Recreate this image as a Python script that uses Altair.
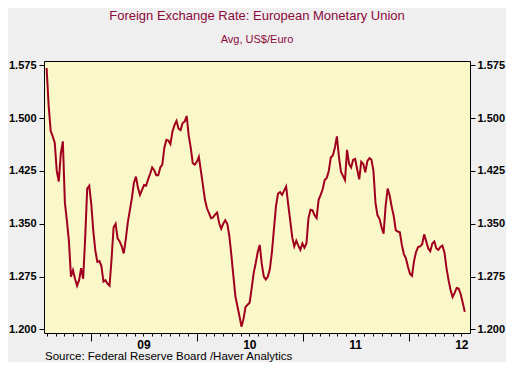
import altair as alt
import pandas as pd

title_text = "Foreign Exchange Rate: European Monetary Union"
subtitle_text = "Avg, US$/Euro"
source_text = "Source:  Federal Reserve Board /Haver Analytics"

# weekly averages, first observation week ending 2008-08-01
start_date = "2008-08-01"
rates = [
    1.571, 1.518, 1.482, 1.474, 1.465, 1.425, 1.410, 1.450, 1.467, 1.380,
    1.354, 1.325, 1.275, 1.284, 1.272, 1.262, 1.270, 1.287, 1.272, 1.330,
    1.400, 1.404, 1.378, 1.340, 1.312, 1.296, 1.297, 1.290, 1.268, 1.270,
    1.265, 1.262, 1.300, 1.345, 1.350, 1.329, 1.325, 1.318, 1.308, 1.328,
    1.352, 1.369, 1.386, 1.408, 1.417, 1.401, 1.391, 1.398, 1.405, 1.404,
    1.413, 1.421, 1.430, 1.426, 1.419, 1.419, 1.430, 1.434, 1.458, 1.469,
    1.468, 1.463, 1.481, 1.490, 1.496, 1.485, 1.483, 1.493, 1.495, 1.503,
    1.475, 1.458, 1.436, 1.434, 1.438, 1.445, 1.425, 1.405, 1.384, 1.372,
    1.365, 1.358, 1.359, 1.363, 1.366, 1.351, 1.343, 1.350, 1.355, 1.350,
    1.333, 1.306, 1.276, 1.247, 1.233, 1.219, 1.204, 1.215, 1.232, 1.235,
    1.238, 1.258, 1.280, 1.294, 1.310, 1.320, 1.293, 1.275, 1.271, 1.275,
    1.286, 1.310, 1.343, 1.375, 1.393, 1.395, 1.391, 1.397, 1.403, 1.378,
    1.355, 1.331, 1.318, 1.326, 1.319, 1.313, 1.322, 1.316, 1.322, 1.358,
    1.370, 1.369, 1.362, 1.358, 1.384, 1.391, 1.399, 1.412, 1.415, 1.425,
    1.444, 1.447, 1.458, 1.474, 1.445, 1.424, 1.418, 1.412, 1.455, 1.435,
    1.430, 1.441, 1.442, 1.427, 1.413, 1.438, 1.435, 1.423, 1.439, 1.443,
    1.441, 1.425, 1.380, 1.362, 1.357, 1.345, 1.336, 1.375, 1.400, 1.390,
    1.374, 1.361, 1.341, 1.339, 1.338, 1.320, 1.307, 1.301, 1.289, 1.279,
    1.276, 1.297, 1.310, 1.317, 1.318, 1.321, 1.335, 1.325, 1.315, 1.311,
    1.322, 1.325, 1.315, 1.313, 1.317, 1.319, 1.309, 1.287, 1.270, 1.256,
    1.246, 1.252, 1.259, 1.258, 1.250, 1.238, 1.225,
]

y_ticks = [1.200, 1.275, 1.350, 1.425, 1.500, 1.575]
y_domain = [1.195, 1.581]
x_domain = ["2008-07-23", "2012-07-31"]
year_label_dates = ["2009-07-01", "2010-07-01", "2011-07-01", "2012-07-01"]
year_tick_dates = ["2009-01-01", "2010-01-01", "2011-01-01", "2012-01-01"]
month_tick_dates = pd.date_range("2008-08-01", "2012-07-01", freq="MS").strftime("%Y-%m-%d").tolist()


def ms(d):
    return int(pd.Timestamp(d).timestamp() * 1000)


dates = pd.date_range(start_date, periods=len(rates), freq="7D").strftime("%Y-%m-%d")
df = pd.DataFrame({"date": dates, "rate": rates})

W, H = 426, 272
LINE = "#A0001E"
TITLE_C = "#8B0A3B"
FONT = "Liberation Sans"

xscale = alt.Scale(domain=[ms(d) for d in x_domain], nice=False)
yscale = alt.Scale(domain=y_domain, nice=False, zero=False)

x_common = dict(grid=False, domain=False, tickColor="black", labelColor="black",
                labelFont=FONT, labelFontSize=12, labelFontWeight="bold", title=None)
y_common = dict(grid=False, domain=False, tickColor="black", labelColor="black",
                labelFont=FONT, labelFontSize=11, labelFontWeight="bold", title=None)

minor_axis = alt.Axis(values=[ms(d) for d in month_tick_dates], labels=False, tickSize=3,
                      orient="bottom", **x_common)
major_axis = alt.Axis(values=[ms(d) for d in year_tick_dates], labels=False, tickSize=8,
                      orient="bottom", **x_common)
label_axis = alt.Axis(values=[ms(d) for d in year_label_dates], ticks=False, labelPadding=6,
                      labelExpr="utcFormat(datum.value, '%y')", orient="bottom", **x_common)

left_axis = alt.Axis(values=y_ticks, format=".3f", tickSize=5, labelPadding=3, orient="left", **y_common)
right_axis = alt.Axis(values=y_ticks, format=".3f", tickSize=5, labelPadding=2, orient="right", **y_common)

base = alt.Chart(df)

line = base.mark_line(color=LINE, strokeWidth=2).encode(
    x=alt.X("date:T", scale=xscale, axis=minor_axis),
    y=alt.Y("rate:Q", scale=yscale, axis=left_axis),
)
ghost1 = base.mark_line(opacity=0).encode(
    x=alt.X("date:T", scale=xscale, axis=major_axis),
    y=alt.Y("rate:Q", scale=yscale, axis=right_axis),
)
ghost2 = base.mark_line(opacity=0).encode(
    x=alt.X("date:T", scale=xscale, axis=label_axis),
    y=alt.Y("rate:Q", scale=yscale, axis=None),
)
src = alt.Chart(pd.DataFrame({"t": [source_text]})).mark_text(
    align="left", baseline="alphabetic", font=FONT, fontSize=11.5, color="black"
).encode(x=alt.value(1), y=alt.value(H + 27), text="t:N")

chart = alt.layer(line, ghost1, ghost2, src).resolve_axis(
    x="independent", y="independent"
).resolve_scale(x="shared", y="shared").properties(
    width=W, height=H,
    title=alt.TitleParams(
        text=title_text, subtitle=subtitle_text, anchor="middle",
        font=FONT, fontSize=13, fontWeight="normal", color=TITLE_C,
        subtitleFont=FONT, subtitleFontSize=11, subtitleColor=TITLE_C,
        subtitlePadding=11, offset=14,
    ),
    autosize=alt.AutoSizeParams(type="none"),
    padding={"left": 36, "top": 53, "right": 36, "bottom": 29},
    background="#EFEFEF",
).configure_view(fill="#FAF7C9", stroke="black", strokeWidth=1)

chart.save("out.html", embed_options={"renderer": "svg", "actions": False})
